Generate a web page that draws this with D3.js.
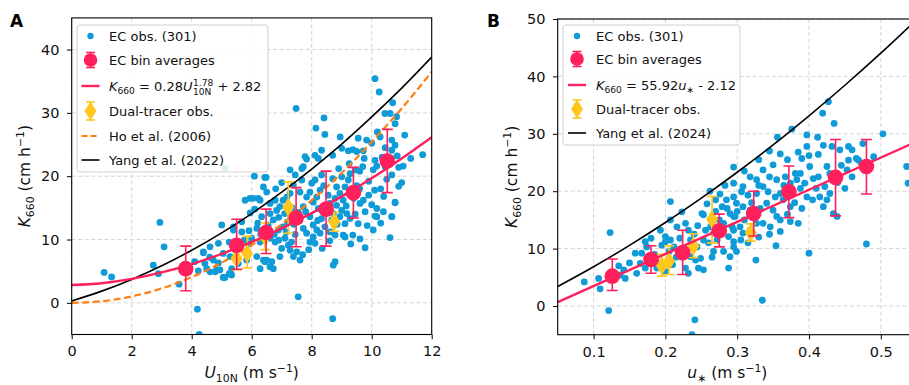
<!DOCTYPE html>
<html>
<head>
<meta charset="utf-8">
<script src="https://cdn.jsdelivr.net/npm/d3@7"></script>
<style>
  body { margin: 0; background: #fff; }
  svg { font-family: "DejaVu Sans", sans-serif; }
</style>
</head>
<body>
<svg id="chart" width="909" height="385"></svg>
<script>
// ---- data ----
// EC observations, panel A: [U10N, K660]
const ecObsA = [
  [1.08,4.8],[1.33,4.1],[2.72,5.95],[2.89,4.6],[2.94,12.7],[3.08,8.85],[3.58,2.95],[4.19,-1.0],[4.25,-5.0],
  [4.22,5.05],[4.5,5.4],[4.78,4.9],[4.94,5.2],[5.11,4.0],[5.25,4.6],[5.33,5.4],[4.44,6.2],[4.72,6.75],[4.89,6.3],
  [5.05,7.8],[5.28,7.3],[5.55,6.2],[5.83,6.75],[6.17,7.3],[6.28,9.6],[6.17,11.75],[6.33,13.6],[6.39,6.75],
  [4.39,7.9],[4.61,8.85],[4.89,9.4],[5.0,12.3],[5.39,12.0],[5.67,12.8],[5.91,11.4],
  [5.11,21.3],[6.09,20.0],[6.44,19.8],[5.78,16.2],[6.05,16.5],[6.22,16.5],
  [5.05,4.0],[5.33,4.4],[4.83,5.2],[4.61,4.9],[4.39,8.05],[5.39,11.5],[5.67,11.2],
  [10.11,35.4],[10.25,33.3],[10.7,31.6],[10.44,29.9],[10.61,29.9],[10.83,29.4],[10.78,28.3],[7.48,30.7],
  [8.41,29.2],[8.14,27.6],[8.44,26.6],[10.19,27.0],[10.28,26.2],[10.67,25.7],[10.78,24.9],[10.67,24.1],
  [9.83,25.7],[10.0,25.2],[9.37,24.2],[9.22,24.0],[9.5,23.9],[9.72,24.0],[9.0,24.4],[8.33,24.1],[8.11,23.3],
  [8.22,22.8],[7.83,22.7],[7.72,21.5],[7.67,21.2],[7.28,21.0],[6.48,19.8],[11.05,21.6],[11.7,23.4],
  [10.11,22.5],[10.17,21.6],[10.05,21.0],[10.67,20.2],[10.78,15.8],[10.67,13.6],[10.61,10.3],[10.11,13.7],
  [10.17,14.9],[9.78,14.4],[9.72,16.2],[9.61,15.7],[9.55,12.5],[9.78,8.7],[9.61,10.1],[9.37,10.7],[9.11,10.4],
  [9.11,18.3],[9.22,19.4],[9.0,19.9],[9.28,20.4],[8.83,18.3],[8.94,17.3],[8.78,16.5],[9.05,16.2],[8.83,15.4],
  [9.0,14.6],[9.17,14.1],[9.28,13.3],[9.11,12.5],[8.94,13.6],[8.61,15.7],[8.72,14.1],[8.28,17.8],[8.17,16.7],
  [8.05,15.9],[8.22,14.9],[7.94,17.5],[7.83,16.7],[7.72,15.2],[8.0,18.9],[8.11,19.4],[8.33,20.2],[7.78,23.1],
  [7.94,13.6],[8.05,12.3],[8.17,11.5],[8.05,10.4],[7.83,11.0],[7.72,11.75],[7.94,9.6],[8.11,9.4],[8.33,13.3],
  [8.44,12.0],[8.28,11.0],[8.67,13.1],[8.61,11.2],[8.78,10.7],[9.05,10.7],[8.78,6.5],[8.72,5.95],[8.7,-2.5],
  [7.55,0.95],[7.61,6.75],[7.5,8.05],[7.39,7.3],[7.33,9.6],[7.22,9.1],[7.11,10.2],[6.94,7.3],[6.72,5.4],
  [6.61,5.7],[6.44,6.5],[6.28,5.4],[7.0,8.6],[6.78,9.6],[6.61,10.2],[6.89,11.5],[7.05,12.0],[6.72,13.1],
  [6.61,14.1],[6.83,14.6],[6.94,15.2],[6.78,16.2],[6.61,15.7],[7.05,16.2],[7.17,16.7],[7.28,17.3],[7.61,17.5],
  [7.39,18.6],[7.67,19.4],[6.28,16.2],[6.5,17.5],[6.39,18.3],[10.17,13.6],[10.67,13.6],[10.78,15.9],
  [10.39,14.4],[6.67,6.5],[6.5,6.75],[7.28,8.3],[5.94,16.5],
  [9.5,18.5],[9.9,19.2],[10.3,18.0],[10.5,19.5],[9.7,21.5],[10.35,23.0],[9.9,17.0],[10.4,16.8],[10.9,18.4],
  [10.0,15.5],[9.4,16.5],[9.6,20.8],[10.45,24.5],[11.1,26.5],[11.3,22.8],[11.0,19.0],
  [6.4,11.5],[6.55,12.3],[6.75,10.8],[6.9,9.9],[7.15,11.2],[7.4,12.4],[7.3,13.4],[7.55,14.3],[7.45,10.8],
  [6.3,10.8],[6.2,12.6],[6.0,10.2],[5.9,9.3],
  [7.1,14.1],[7.35,15.0],[7.6,13.0],[7.8,14.4],[8.2,13.0],[8.5,14.5],[8.55,17.0],[8.4,18.5],[8.7,19.6],
  [8.9,21.2],[9.25,22.0],[9.45,21.0],[9.6,18.0],[9.35,17.2],[9.15,15.3],[9.45,14.0],[9.85,12.2],[10.05,11.5],
  [10.3,12.6],[10.45,21.5],[10.65,22.8],[10.85,23.2],[10.9,21.4],[8.85,12.4],[8.6,9.8],[8.35,8.6],[7.9,8.4],
  [7.7,7.6],[9.3,9.3],[10.1,17.8],[9.75,22.8],[9.55,26.0],[8.95,26.2],[8.7,23.3],[7.45,20.2],[7.0,19.0],
  [6.8,18.0],[6.9,13.5],[7.2,12.8],[5.95,14.2],[6.1,14.8],[5.75,9.9],[5.25,9.6],[5.45,8.4],[4.6,7.2],[4.1,6.5]
];
// EC observations, panel B: [u*, K660]
const ecObsB = [
  [0.295,24.2],[0.295,21.4],[0.207,18.2],[0.123,12.8],[0.121,-0.8],[0.241,-2.4],[0.237,-5.0],[0.087,4.2],
  [0.109,3.0],[0.107,4.8],[0.142,6.3],[0.144,4.8],[0.137,5.4],[0.16,5.7],[0.158,9.2],[0.167,9.2],[0.172,11.2],
  [0.174,10.3],[0.172,6.6],[0.188,6.6],[0.193,7.4],[0.195,10.6],[0.2,11.2],[0.207,11.5],[0.212,10.3],
  [0.207,15.0],[0.216,13.8],[0.223,16.4],[0.228,14.4],[0.232,13.2],[0.193,13.2],[0.2,12.1],[0.225,9.2],
  [0.235,8.6],[0.242,8.0],[0.232,5.7],[0.228,6.6],[0.244,10.3],[0.249,8.3],[0.253,11.5],[0.246,6.6],
  [0.253,6.3],[0.253,15.9],[0.256,13.2],[0.263,13.8],[0.267,12.7],[0.272,11.5],[0.267,9.5],[0.281,9.5],
  [0.279,17.3],[0.286,17.0],[0.29,16.1],[0.297,15.6],[0.293,13.8],[0.281,14.4],[0.288,12.1],[0.295,11.2],
  [0.288,6.6],[0.295,19.0],[0.251,16.1],[0.27,18.5],[0.262,20.0],[0.283,21.0],[0.276,19.5],[0.258,17.8],
  [0.427,35.6],[0.419,33.6],[0.435,31.8],[0.376,30.8],[0.356,29.4],[0.503,30.0],[0.397,29.8],[0.412,29.4],
  [0.397,27.8],[0.413,26.4],[0.432,27.8],[0.443,27.2],[0.455,27.8],[0.46,27.2],[0.455,25.4],[0.466,25.7],
  [0.469,25.4],[0.473,24.9],[0.453,23.7],[0.536,24.3],[0.538,21.4],[0.48,10.8],[0.4,9.2],[0.335,1.0],
  [0.326,8.0],[0.354,10.5],[0.39,25.7],[0.401,24.3],[0.388,23.1],[0.394,21.4],[0.406,22.2],[0.413,22.5],
  [0.425,24.3],[0.429,23.1],[0.422,20.8],[0.429,19.6],[0.425,18.5],[0.42,17.3],[0.439,15.6],[0.434,16.1],
  [0.367,22.5],[0.381,23.1],[0.374,21.4],[0.383,22.0],[0.388,20.5],[0.397,19.0],[0.35,24.6],[0.336,23.7],
  [0.318,22.5],[0.327,22.0],[0.308,20.8],[0.306,19.9],[0.315,19.3],[0.327,19.6],[0.336,20.8],[0.343,19.9],
  [0.353,19.0],[0.36,19.6],[0.364,18.5],[0.374,17.3],[0.385,14.4],[0.374,14.7],[0.299,17.9],[0.308,17.3],
  [0.318,16.7],[0.332,17.0],[0.341,17.9],[0.35,16.7],[0.355,15.6],[0.36,15.0],[0.336,14.4],[0.346,13.8],
  [0.327,14.4],[0.318,13.2],[0.304,13.8],[0.308,12.7],[0.295,15.6],[0.295,13.2],[0.295,10.3],[0.299,9.5],
  [0.29,8.6],
  [0.305,11.5],[0.315,11.0],[0.33,12.0],[0.345,12.5],[0.36,13.0],[0.37,16.0],[0.38,18.0],[0.39,17.0],
  [0.405,18.5],[0.41,20.5],[0.415,19.0],[0.365,21.0],[0.355,22.0],[0.345,22.5],[0.33,21.0],[0.32,18.0],
  [0.31,15.0],[0.3,16.5],[0.285,18.5],[0.275,15.0],[0.27,16.5],[0.26,11.0],[0.265,8.5],[0.24,12.5],
  [0.245,14.0],[0.235,11.5],[0.22,11.8],[0.215,8.5],[0.205,9.5],[0.185,9.0],[0.18,11.8],[0.165,7.4],
  [0.15,7.5],[0.135,7.0],[0.2,6.0],[0.21,7.2],[0.445,24.5],[0.44,21.5],[0.45,20.5],[0.46,22.5],[0.475,28.3],
  [0.49,26.0],[0.4,26.2],[0.42,28.0],[0.385,26.8],[0.37,25.5],[0.36,26.5],[0.345,27.0],[0.33,25.5],[0.31,23.5]
];

// EC bin averages
const binU10 = [3.8, 5.5, 6.48, 7.48, 8.48, 9.39, 10.52];
const binK_A = [5.4, 9.1, 11.1, 13.4, 14.8, 17.4, 22.4];
const binLo_A = [1.9, 5.3, 7.8, 8.85, 8.96, 13.4, 17.4];
const binHi_A = [8.96, 13.2, 14.8, 18.2, 20.8, 21.4, 27.4];

const binUstar = [0.126, 0.180, 0.224, 0.275, 0.323, 0.372, 0.437, 0.48];
const binK_B = [5.2, 8.1, 9.3, 13.1, 16.1, 19.9, 22.4, 24.3];
const binLo_B = [2.7, 5.7, 5.5, 10.3, 12.2, 15.4, 15.7, 19.5];
const binHi_B = [8.2, 10.5, 13.2, 16.0, 20.0, 24.4, 29.0, 29.0];

// dual-tracer observations
const dualU10 = [5.5, 5.85, 6.45, 7.22, 8.75];
const dualUstar = [0.195, 0.205, 0.239, 0.265, 0.319];
const dualK = [7.0, 7.8, 10.4, 15.1, 12.8];
const dualLo = [5.2, 5.5, 8.4, 11.0, 11.3];
const dualHi = [9.0, 10.5, 12.6, 19.1, 14.3];

// curves, panel A
const curveU = [0,1,2,3,4,5,6,7,8,9,10,11,12];
const fitK_A = [2.82,3.10,3.78,4.80,6.12,7.73,9.62,11.76,14.16,16.81,19.69,22.81,26.16];
const ho2006K = [0,0.25,1.01,2.28,4.06,6.34,9.13,12.4,16.2,20.5,25.4,30.7,36.5];
const yang2022K = [0.3,1.85,3.70,5.85,8.30,11.06,14.1,17.47,21.13,25.07,29.36,33.9,38.8];
// curves, panel B
const fitUstar = [0.05, 0.55];
const fitK_B = [0.68, 28.64];
const yangUstar = [0.05,0.1,0.15,0.2,0.25,0.3,0.35,0.4,0.45,0.5,0.55];
const yang2024K = [3.40,6.85,10.56,14.54,18.79,23.3,28.07,33.14,38.46,44.05,49.9];

const ticksU10 = [0,2,4,6,8,10,12];
const ticksUstar = [0.1,0.2,0.3,0.4,0.5];
const ticksK_A = [0,10,20,30,40];
const ticksK_B = [0,10,20,30,40,50];

// ---- drawing ----
const svg = d3.select("#chart");
const BLUE = "#0f9ad8", PINK = "#ff1f5b", YELLOW = "#ffc61e", ORANGE = "#ff7f0e";
const TXT = "#111";

// text with italic / sub / sup pieces
function rich(sel, x, y, parts, size, anchor) {
  const t = sel.append("text").attr("x", x).attr("y", y)
    .attr("font-size", size).attr("fill", TXT)
    .attr("text-anchor", anchor || "start");
  let cur = 0;
  parts.forEach(p => {
    const s = t.append("tspan").text(p.t);
    if (p.i) s.attr("font-style", "italic");
    let target = 0;
    if (p.sub) { target = size * 0.24; s.attr("font-size", size * 0.7); }
    if (p.sup) { target = -size * 0.4; s.attr("font-size", size * 0.7); }
    if (target !== cur) s.attr("dy", target - cur);
    cur = target;
  });
  return t;
}

function thinDiamond(w, h) {
  return `M0,${-h/2}L${w/2},0L0,${h/2}L${-w/2},0Z`;
}

function panel(cfg) {
  const x = d3.scaleLinear().domain(cfg.xDomain).range([cfg.left, cfg.right]);
  const y = d3.scaleLinear().domain(cfg.yDomain).range([cfg.bottom, cfg.top]);
  const g = svg.append("g");

  svg.append("clipPath").attr("id", "clip" + cfg.id)
    .append("rect").attr("x", cfg.left).attr("y", cfg.top)
    .attr("width", cfg.right - cfg.left).attr("height", cfg.bottom - cfg.top);

  // grid
  const grid = g.append("g").attr("stroke", "#d4d4d4").attr("stroke-width", 1)
    .attr("stroke-dasharray", "4,2.5");
  grid.selectAll(".gx").data(cfg.xTicks).join("line")
    .attr("x1", d => x(d)).attr("x2", d => x(d)).attr("y1", cfg.top).attr("y2", cfg.bottom);
  grid.selectAll(".gy").data(cfg.yTicks).join("line")
    .attr("x1", cfg.left).attr("x2", cfg.right).attr("y1", d => y(d)).attr("y2", d => y(d));

  const plot = g.append("g").attr("clip-path", `url(#clip${cfg.id})`);

  // EC observations
  plot.append("g").selectAll("circle").data(cfg.obs).join("circle")
    .attr("cx", d => x(d[0])).attr("cy", d => y(d[1])).attr("r", 3.4).attr("fill", BLUE);

  const line = d3.line().x(d => x(d[0])).y(d => y(d[1])).curve(d3.curveMonotoneX);

  // reference curves
  cfg.refs.forEach(r => {
    plot.append("path").datum(r.xs.map((v, i) => [v, r.ys[i]]))
      .attr("d", line).attr("fill", "none").attr("stroke", r.color)
      .attr("stroke-width", r.width).attr("stroke-dasharray", r.dash || null);
  });

  // dual tracer
  const dual = plot.append("g");
  cfg.dualX.forEach((dx, i) => {
    const cx = x(dx);
    dual.append("line").attr("x1", cx).attr("x2", cx)
      .attr("y1", y(dualLo[i])).attr("y2", y(dualHi[i]))
      .attr("stroke", YELLOW).attr("stroke-width", 1.6);
    [dualLo[i], dualHi[i]].forEach(v => dual.append("line")
      .attr("x1", cx - 5).attr("x2", cx + 5).attr("y1", y(v)).attr("y2", y(v))
      .attr("stroke", YELLOW).attr("stroke-width", 1.6));
    dual.append("path").attr("d", thinDiamond(12, 19))
      .attr("transform", `translate(${cx},${y(dualK[i])})`).attr("fill", YELLOW);
  });

  // fit line
  plot.append("path").datum(cfg.fit.xs.map((v, i) => [v, cfg.fit.ys[i]]))
    .attr("d", line).attr("fill", "none").attr("stroke", PINK).attr("stroke-width", 2.4);

  // bin averages
  const bins = plot.append("g");
  cfg.binX.forEach((bx, i) => {
    const cx = x(bx);
    bins.append("line").attr("x1", cx).attr("x2", cx)
      .attr("y1", y(cfg.binLo[i])).attr("y2", y(cfg.binHi[i]))
      .attr("stroke", PINK).attr("stroke-width", 1.6);
    [cfg.binLo[i], cfg.binHi[i]].forEach(v => bins.append("line")
      .attr("x1", cx - 5.5).attr("x2", cx + 5.5).attr("y1", y(v)).attr("y2", y(v))
      .attr("stroke", PINK).attr("stroke-width", 1.6));
    bins.append("circle").attr("cx", cx).attr("cy", y(cfg.binK[i])).attr("r", 7.8).attr("fill", PINK);
  });

  // axes
  const ax = g.append("g").attr("transform", `translate(0,${cfg.bottom})`)
    .call(d3.axisBottom(x).tickValues(cfg.xTicks).tickSize(4.7).tickPadding(7).tickFormat(cfg.xFmat));
  const ay = g.append("g").attr("transform", `translate(${cfg.left},0)`)
    .call(d3.axisLeft(y).tickValues(cfg.yTicks).tickSize(4.7).tickPadding(7.5).tickFormat(d3.format("d")));
  [ax, ay].forEach(a => {
    a.select(".domain").remove();
    a.selectAll("line").attr("stroke", "#000").attr("stroke-width", 1);
    a.selectAll("text").attr("font-size", 14.5).attr("fill", TXT)
      .attr("font-family", '"DejaVu Sans", sans-serif');
  });

  // spines
  g.append("rect").attr("x", cfg.left).attr("y", cfg.top)
    .attr("width", cfg.right - cfg.left).attr("height", cfg.bottom - cfg.top)
    .attr("fill", "none").attr("stroke", "#000").attr("stroke-width", 1.1);

  // labels
  rich(g, (cfg.left + Math.min(cfg.right, 909)) / 2 + cfg.xLabelShift, 378, cfg.xLabel, 15.5, "middle");
  rich(g.append("g").attr("transform", `translate(${cfg.yLabelX},${(cfg.top + cfg.bottom) / 2}) rotate(-90)`),
    0, 0, [{t: "K", i: true}, {t: "660", sub: true}, {t: " (cm h"}, {t: "\u22121", sup: true}, {t: ")"}], 15.5, "middle");
  g.append("text").attr("x", cfg.letterX).attr("y", 27).attr("font-size", 17)
    .attr("font-weight", "bold").attr("fill", "#000").text(cfg.letter);

  return {x, y, g};
}

panel({
  id: "A", left: 71.7, right: 431.7, top: 17.9, bottom: 334.5,
  xDomain: [0, 12], yDomain: [-5, 45], xTicks: ticksU10, yTicks: ticksK_A,
  xFmat: d3.format("d"),
  obs: ecObsA,
  refs: [
    {xs: curveU, ys: ho2006K, color: ORANGE, width: 2.2, dash: "7,3.5"},
    {xs: curveU, ys: yang2022K, color: "#000", width: 1.6}
  ],
  fit: {xs: curveU, ys: fitK_A},
  dualX: dualU10,
  binX: binU10, binK: binK_A, binLo: binLo_A, binHi: binHi_A,
  xLabel: [{t: "U", i: true}, {t: "10N", sub: true}, {t: " (m s"}, {t: "\u22121", sup: true}, {t: ")"}],
  xLabelShift: 0,
  yLabelX: 30, letter: "A", letterX: 10
});

panel({
  id: "B", left: 557.7, right: 916.7, top: 19, bottom: 334.7,
  xDomain: [0.05, 0.55], yDomain: [-5, 50], xTicks: ticksUstar, yTicks: ticksK_B,
  xFmat: d3.format(".1f"),
  obs: ecObsB,
  refs: [
    {xs: yangUstar, ys: yang2024K, color: "#000", width: 1.6}
  ],
  fit: {xs: fitUstar, ys: fitK_B},
  dualX: dualUstar,
  binX: binUstar, binK: binK_B, binLo: binLo_B, binHi: binHi_B,
  xLabel: [{t: "u", i: true}, {t: "\u2217", sub: true}, {t: " (m s"}, {t: "\u22121", sup: true}, {t: ")"}],
  xLabelShift: -6,
  yLabelX: 517, letter: "B", letterX: 487
});

// ---- legends ----
function legend(x0, y0, w, h, mx, tx, rows) {
  const lg = svg.append("g");
  lg.append("rect").attr("x", x0).attr("y", y0).attr("width", w).attr("height", h).attr("rx", 3)
    .attr("fill", "#fff").attr("fill-opacity", 0.85).attr("stroke", "#d0d0d0").attr("stroke-width", 1);
  rows.forEach(r => {
    const yy = r.y;
    if (r.kind === "dot") {
      lg.append("circle").attr("cx", mx).attr("cy", yy).attr("r", 3.2).attr("fill", BLUE);
    } else if (r.kind === "bin") {
      lg.append("line").attr("x1", mx).attr("x2", mx).attr("y1", yy - 7.5).attr("y2", yy + 7.5)
        .attr("stroke", PINK).attr("stroke-width", 1.6);
      [-7.5, 7.5].forEach(d => lg.append("line").attr("x1", mx - 4.5).attr("x2", mx + 4.5)
        .attr("y1", yy + d).attr("y2", yy + d).attr("stroke", PINK).attr("stroke-width", 1.6));
      lg.append("circle").attr("cx", mx).attr("cy", yy).attr("r", 6.8).attr("fill", PINK);
    } else if (r.kind === "dual") {
      lg.append("line").attr("x1", mx).attr("x2", mx).attr("y1", yy - 9).attr("y2", yy + 9)
        .attr("stroke", YELLOW).attr("stroke-width", 1.6);
      [-9, 9].forEach(d => lg.append("line").attr("x1", mx - 4.5).attr("x2", mx + 4.5)
        .attr("y1", yy + d).attr("y2", yy + d).attr("stroke", YELLOW).attr("stroke-width", 1.6));
      lg.append("path").attr("d", thinDiamond(12, 19)).attr("transform", `translate(${mx},${yy})`)
        .attr("fill", YELLOW);
    } else {
      lg.append("line").attr("x1", mx - 9).attr("x2", mx + 9).attr("y1", yy).attr("y2", yy)
        .attr("stroke", r.color).attr("stroke-width", r.width).attr("stroke-dasharray", r.dash || null);
    }
    if (r.formula) r.formula(lg, tx, yy + 5);
    else rich(lg, tx, yy + 5, r.parts || [{t: r.label}], 13);
  });
}

legend(77, 25, 191, 147, 90.5, 109, [
  {y: 36, kind: "dot", label: "EC obs. (301)"},
  {y: 60, kind: "bin", label: "EC bin averages"},
  {y: 86, kind: "line", color: PINK, width: 2.4, formula: (lg, x, y) => {
    const t = rich(lg, x, y, [{t: "K", i: true}, {t: "660", sub: true}, {t: " = 0.28"}, {t: "U", i: true}], 13);
    const x1 = x + t.node().getComputedTextLength() + 0.5;
    const sp = lg.append("text").attr("x", x1).attr("y", y - 5.5).attr("font-size", 9.1).attr("fill", TXT).text("1.78");
    const sb = lg.append("text").attr("x", x1).attr("y", y + 3.8).attr("font-size", 9.1).attr("fill", TXT).text("10N");
    const x2 = x1 + Math.max(sp.node().getComputedTextLength(), sb.node().getComputedTextLength());
    lg.append("text").attr("x", x2).attr("y", y).attr("font-size", 13).attr("fill", TXT).attr("xml:space", "preserve").text(" + 2.82");
  }},
  {y: 111, kind: "dual", label: "Dual-tracer obs."},
  {y: 136, kind: "line", color: ORANGE, width: 2.2, dash: "6,3", label: "Ho et al. (2006)"},
  {y: 160, kind: "line", color: "#000", width: 1.6, label: "Yang et al. (2022)"}
]);

legend(563, 25, 177, 120, 577, 596, [
  {y: 36, kind: "dot", label: "EC obs. (301)"},
  {y: 59, kind: "bin", label: "EC bin averages"},
  {y: 85, kind: "line", color: PINK, width: 2.4,
    parts: [{t: "K", i: true}, {t: "660", sub: true}, {t: " = 55.92"}, {t: "u", i: true}, {t: "\u2217", sub: true}, {t: " - 2.12"}]},
  {y: 109, kind: "dual", label: "Dual-tracer obs."},
  {y: 133, kind: "line", color: "#000", width: 1.6, label: "Yang et al. (2024)"}
]);
</script>
</body>
</html>
